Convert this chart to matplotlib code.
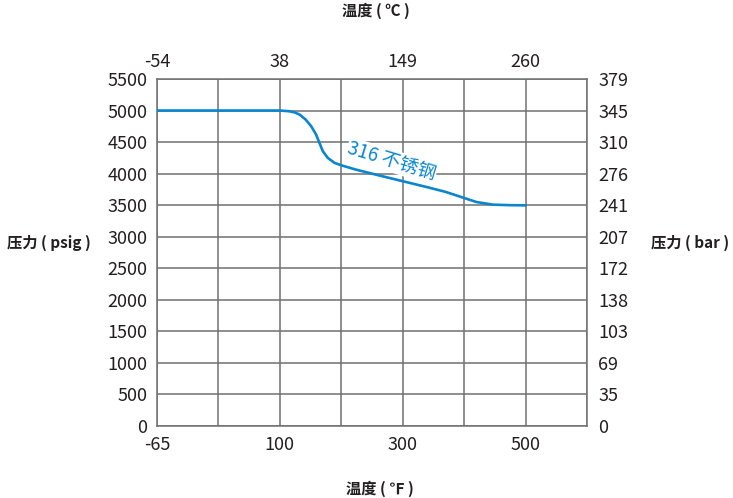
import numpy as np
import matplotlib
matplotlib.use("Agg")
import matplotlib.pyplot as plt

plt.rcParams['font.family'] = ['Noto Sans CJK SC', 'DejaVu Sans']

# DATA
temp_f = [-65, 100, 115, 124, 132, 142, 151, 159, 164, 170, 178, 189, 200, 224,
          260, 300, 340, 370, 400, 420, 447, 475, 500]
psig = [5000, 5000, 4989, 4970, 4937, 4857, 4751, 4619, 4497, 4354, 4249, 4170, 4132, 4063,
        3975, 3880, 3785, 3710, 3614, 3550, 3508, 3500, 3497]

grid_f = [-65, 17.5, 100, 200, 300, 400, 500, 600]
f_labels = ['-65', '', '100', '', '300', '', '500', '']
c_labels = ['-54', '', '38', '', '149', '', '260', '']

psig_ticks = list(range(0, 5501, 500))
bar_labels = ['0', '35', '69', '103', '138', '172', '207', '241', '276', '310', '345', '379']

series_name = '316 不锈钢'

# uneven x scale: -65..100 spans two cells, then 100 F per cell
def fwd(x):
    return np.interp(x, [-65, 100, 600], [0, 2, 7])

def inv(x):
    return np.interp(x, [0, 2, 7], [-65, 100, 600])

blue = '#0a86d1'
gray = '#707070'
txt = '#231f20'

fig = plt.figure(figsize=(7.33, 4.98), dpi=100)
ax = fig.add_axes([0.2142, 0.1446, 0.5866, 0.6968])

ax.set_xscale('function', functions=(fwd, inv))
ax.set_xlim(-65, 600)
ax.set_ylim(0, 5500)

ax.plot(temp_f, psig, color=blue, lw=1.9, zorder=3,
        solid_joinstyle='round', solid_capstyle='round')

ax.set_xticks(grid_f)
ax.set_xticklabels(f_labels)
ax.set_yticks(psig_ticks)
ax.grid(True, color=gray, lw=1.1)
ax.tick_params(length=0, labelsize=13, colors=txt, pad=7)
for s in ax.spines.values():
    s.set_color(gray)
    s.set_linewidth(1.1)

ax.text(282, 4200, series_name, color=blue, fontsize=13.5, rotation=-17,
        ha='center', va='center', rotation_mode='anchor', zorder=4,
        bbox=dict(facecolor='white', edgecolor='none', pad=0.5))

# top axis in Celsius
axt = ax.twiny()
axt.set_xscale('function', functions=(fwd, inv))
axt.set_xlim(-65, 600)
axt.set_xticks(grid_f)
axt.set_xticklabels(c_labels)
axt.tick_params(length=0, labelsize=13, colors=txt, pad=6)

# right axis in bar
axr = ax.twinx()
axr.set_ylim(0, 5500)
axr.set_yticks(psig_ticks)
axr.set_yticklabels(bar_labels)
axr.tick_params(length=0, labelsize=13, colors=txt, pad=8)
for a in (axt, axr):
    for s in a.spines.values():
        s.set_visible(False)

fig.text(0.513, 0.978, '温度 ( ℃ )', ha='center', va='center', fontsize=11, fontweight='bold', color=txt)
fig.text(0.518, 0.018, '温度 ( ℉ )', ha='center', va='center', fontsize=11, fontweight='bold', color=txt)
fig.text(0.067, 0.513, '压力 ( psig )', ha='center', va='center', fontsize=11, fontweight='bold', color=txt)
fig.text(0.941, 0.513, '压力 ( bar )', ha='center', va='center', fontsize=11, fontweight='bold', color=txt)

fig.savefig('out.png', dpi=100)
